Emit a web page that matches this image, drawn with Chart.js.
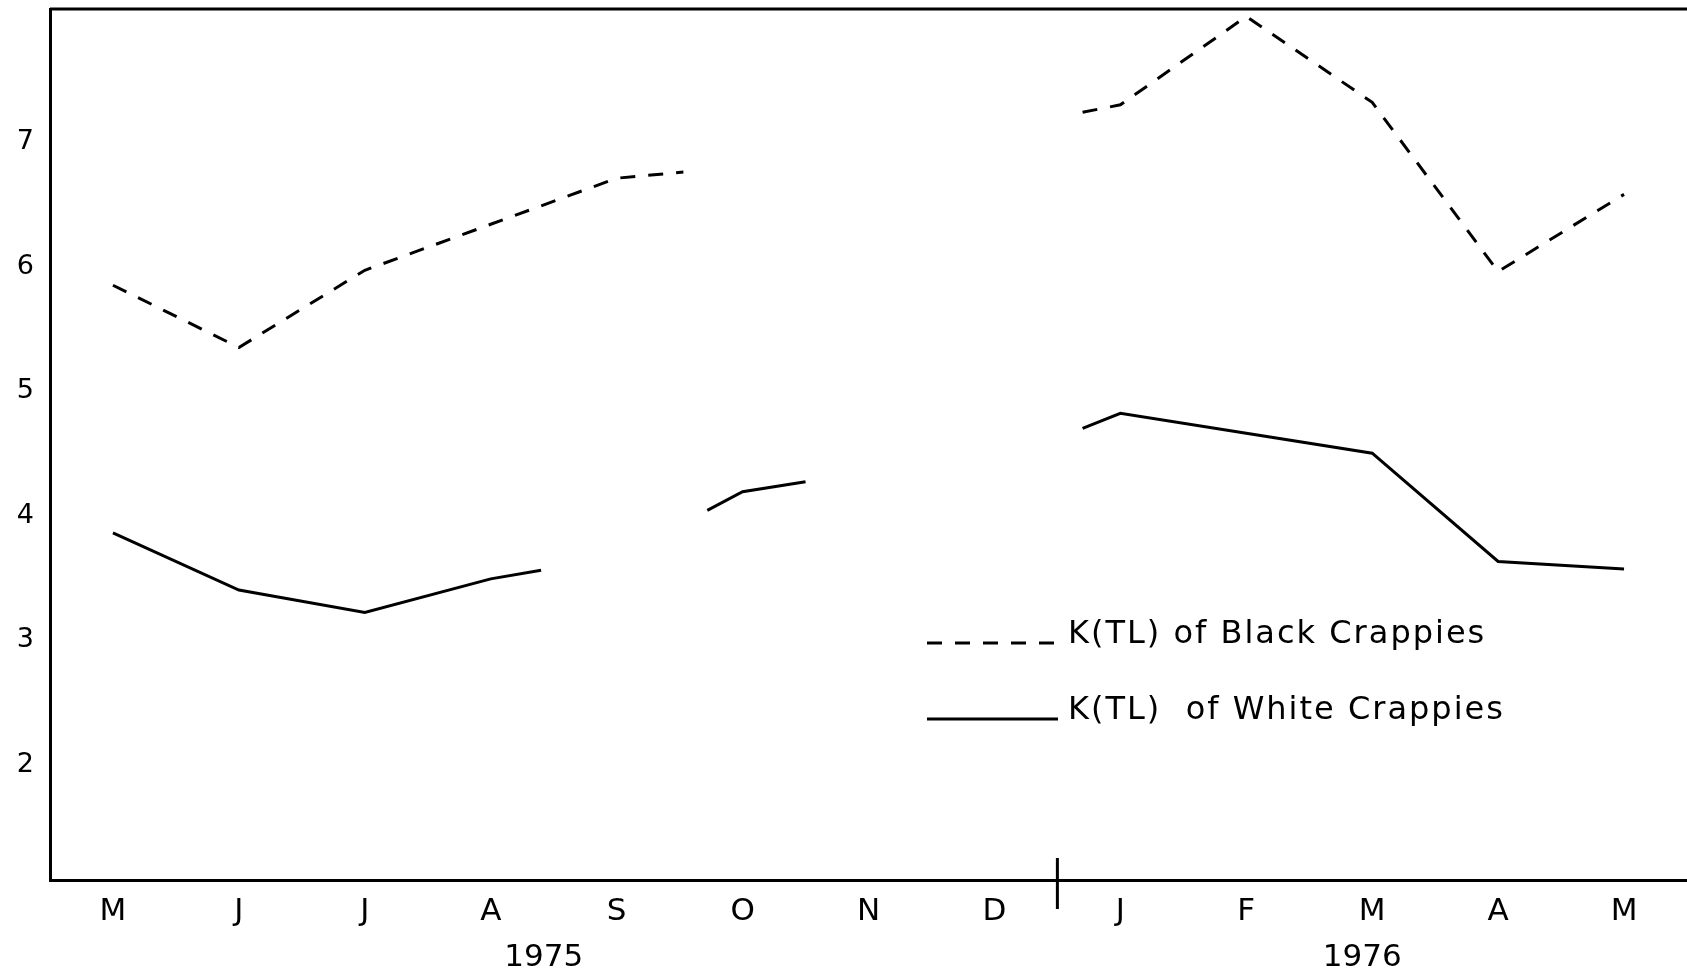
<!DOCTYPE html>
<html>
<head>
<meta charset="utf-8">
<title>K(TL) of Crappies</title>
<script src="https://cdn.jsdelivr.net/npm/chart.js@4/dist/chart.umd.min.js"></script>
<style>
  body { margin: 0; background: #fff; }
  #wrap { width: 1687px; height: 976px; }
</style>
</head>
<body>
<div id="wrap"><canvas id="grafico" width="1687" height="976"></canvas></div>
<script>
const months = ['M', 'J', 'J', 'A', 'S', 'O', 'N', 'D', 'J', 'F', 'M', 'A', 'M'];
const years = ['1975', '1976'];
const monthsPerYear = [8, 5];
const yTicks = [2, 3, 4, 5, 6, 7];

// month index (0 = May 1975); null breaks the line where the original trace is missing
const blackPos = [0, 1, 2, 3, 4, 4.53, null, 7.7, 8, 9, 10, 11, 12];
const blackK = [5.78, 5.28, 5.9, 6.27, 6.64, 6.69, null, 7.17, 7.23, 7.94, 7.25, 5.89, 6.51];
const whitePos = [0, 1, 2, 3, 3.4, null, 4.72, 5, 5.5, null, 7.7, 8, 9, 10, 11, 12];
const whiteK = [3.79, 3.33, 3.15, 3.42, 3.49, null, 3.97, 4.12, 4.2, null, 4.63, 4.75, 4.59, 4.43, 3.56, 3.5];

const fuente = 'DejaVu Sans';

function puntos(xs, ys) {
  return xs.map((x, i) => ({ x: x, y: ys[i] }));
}

function centrosAnios() {
  let inicio = 0;
  return monthsPerYear.map(n => {
    const c = inicio + (n - 1) / 2;
    inicio += n;
    return c;
  });
}

function sinPadding(s) {
  s.paddingTop = 0;
  s.paddingBottom = 0;
  s.paddingLeft = 0;
  s.paddingRight = 0;
}

const decor = {
  id: 'decor',
  afterDraw(chart) {
    const { ctx, chartArea: a, scales } = chart;
    ctx.save();
    ctx.strokeStyle = '#000';
    ctx.lineWidth = 3;
    ctx.beginPath();
    ctx.moveTo(a.left, a.top);
    ctx.lineTo(a.right, a.top);
    ctx.stroke();

    const xd = scales.x.getPixelForValue(monthsPerYear[0] - 0.5);
    ctx.beginPath();
    ctx.moveTo(xd, a.bottom - 22);
    ctx.lineTo(xd, a.bottom + 29);
    ctx.stroke();

    // legend
    ctx.font = '32px "' + fuente + '"';
    ctx.letterSpacing = '2px';
    ctx.fillStyle = '#000';
    ctx.textBaseline = 'alphabetic';
    chart.data.datasets.forEach((ds, i) => {
      const y = a.top + 634 + i * 76;
      const x0 = a.left + 877;
      ctx.setLineDash(ds.borderDash || []);
      ctx.lineWidth = 3;
      ctx.beginPath();
      ctx.moveTo(x0, y);
      ctx.lineTo(x0 + 131, y);
      ctx.stroke();
      ctx.setLineDash([]);
      ctx.fillText(ds.label, x0 + 141, y);
    });
    ctx.restore();
  }
};

new Chart(document.getElementById('grafico'), {
  type: 'line',
  data: {
    datasets: [
      {
        label: 'K(TL) of Black Crappies',
        data: puntos(blackPos, blackK),
        borderColor: '#000',
        borderWidth: 3,
        borderDash: [15, 13],
        pointRadius: 0,
        tension: 0
      },
      {
        label: 'K(TL)  of White Crappies',
        data: puntos(whitePos, whiteK),
        borderColor: '#000',
        borderWidth: 3,
        pointRadius: 0,
        tension: 0
      }
    ]
  },
  options: {
    responsive: false,
    animation: false,
    devicePixelRatio: 1,
    layout: { padding: { top: 9, right: 0, left: 0, bottom: 0 } },
    plugins: { legend: { display: false }, tooltip: { enabled: false } },
    scales: {
      x: {
        type: 'linear',
        position: 'bottom',
        weight: 0,
        min: -0.5,
        max: 12.5,
        afterBuildTicks: s => { s.ticks = months.map((m, i) => ({ value: i })); },
        afterFit: s => { s.height = 50; sinPadding(s); },
        ticks: {
          callback: v => months[Math.round(v)],
          font: { family: fuente, size: 31 },
          color: '#000',
          padding: 13,
          maxRotation: 0,
          autoSkip: false
        },
        grid: { display: false, drawTicks: false },
        border: { color: '#000', width: 3 }
      },
      years: {
        type: 'linear',
        position: 'bottom',
        weight: 1,
        min: -0.5,
        max: 12.5,
        afterBuildTicks: s => { s.ticks = centrosAnios().map(v => ({ value: v })); },
        afterFit: s => { s.height = 46; sinPadding(s); },
        ticks: {
          callback: (v, i) => years[i],
          font: { family: fuente, size: 31 },
          color: '#000',
          padding: 9,
          labelOffset: -10,
          maxRotation: 0,
          autoSkip: false
        },
        grid: { display: false, drawTicks: false },
        border: { display: false }
      },
      y: {
        min: 1,
        max: 8,
        afterBuildTicks: s => { s.ticks = yTicks.map(v => ({ value: v })); },
        afterFit: s => { s.width = 50; sinPadding(s); },
        ticks: {
          callback: v => String(v),
          font: { family: fuente, size: 27 },
          color: '#000',
          padding: 16,
          labelOffset: 9
        },
        grid: { display: false, drawTicks: false },
        border: { color: '#000', width: 3 }
      }
    }
  },
  plugins: [decor]
});
</script>
</body>
</html>
